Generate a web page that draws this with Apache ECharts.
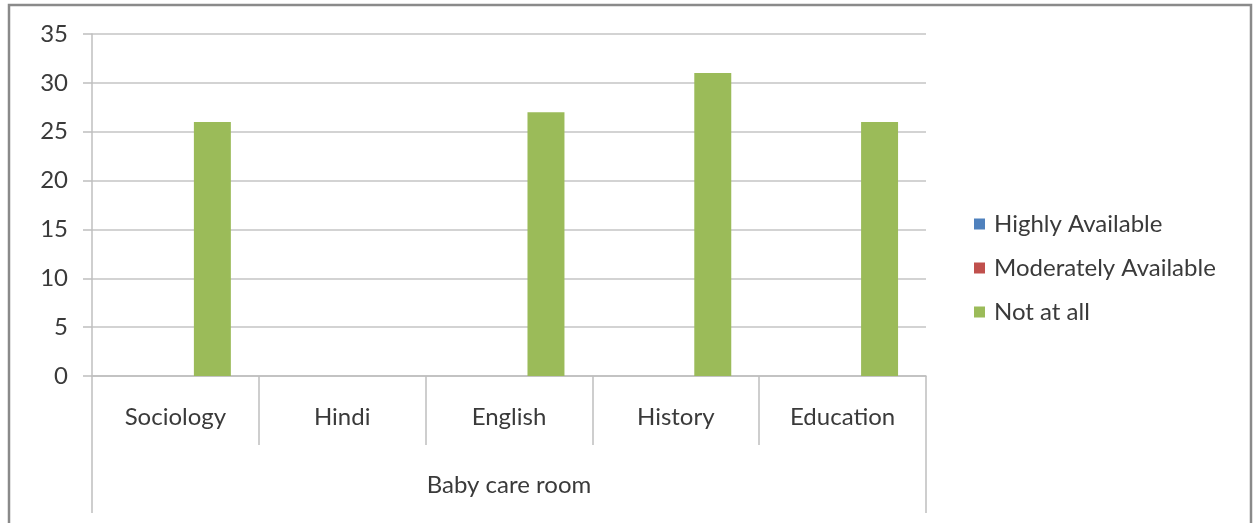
<!DOCTYPE html>
<html>
<head>
<meta charset="utf-8">
<script src="https://cdn.jsdelivr.net/npm/echarts@6/dist/echarts.min.js"></script>
<style>
  html, body { margin: 0; padding: 0; background: #fff; }
  #chart { width: 1253px; height: 523px; }
</style>
</head>
<body>
<div id="chart"></div>
<script>
var subjects = ['Sociology', 'Hindi', 'English', 'History', 'Education']
var groupLabel = ['Baby care room']
var highlyAvailable = [0, 0, 0, 0, 0]
var moderatelyAvailable = [0, 0, 0, 0, 0]
var notAtAll = [26, 0, 27, 31, 26]

var labelFont = 'Lato, "Open Sans", sans-serif'

var chart = echarts.init(document.getElementById('chart'))
chart.setOption({
  animation: false,
  color: ['#4f81bd', '#c0504d', '#9bbb59'],
  textStyle: { fontFamily: labelFont },
  graphic: [{
    type: 'rect',
    shape: { x: 9, y: 5, width: 1242, height: 540 },
    style: { fill: 'none', stroke: '#8a8a8a', lineWidth: 2.5 },
    silent: true
  }],
  grid: {
    left: 92,
    right: 327,
    top: 34,
    bottom: 147
  },
  legend: {
    orient: 'vertical',
    left: 969,
    top: 207,
    icon: 'rect',
    itemWidth: 11,
    itemHeight: 11,
    itemGap: 20,
    textStyle: {
      fontSize: 24,
      color: '#3a3a3a',
      padding: [0, 0, 0, 4]
    },
    data: ['Highly Available', 'Moderately Available', 'Not at all']
  },
  xAxis: [{
    type: 'category',
    data: subjects,
    axisLine: { lineStyle: { color: '#bfbfbf', width: 1.5 } },
    axisTick: { show: true, interval: 0, length: 69, lineStyle: { color: '#bfbfbf', width: 1.5 } },
    axisLabel: { interval: 0, margin: 29, fontSize: 24, color: '#3a3a3a' }
  }, {
    type: 'category',
    data: groupLabel,
    position: 'bottom',
    axisLine: { show: false },
    axisTick: { show: true, length: 137, lineStyle: { color: '#bfbfbf', width: 1.5 } },
    axisLabel: { margin: 97, fontSize: 24, color: '#3a3a3a' }
  }],
  yAxis: {
    type: 'value',
    min: 0,
    max: 35,
    interval: 5,
    axisLine: { show: true, lineStyle: { color: '#bfbfbf', width: 1.5 } },
    axisTick: { show: true, length: 9, lineStyle: { color: '#bfbfbf', width: 1.5 } },
    axisLabel: { margin: 24, fontSize: 24, color: '#3a3a3a' },
    splitLine: { lineStyle: { color: '#c4c4c4', width: 1.5 } }
  },
  series: [{
    type: 'bar',
    name: 'Highly Available',
    data: highlyAvailable,
    barGap: '0%',
    barCategoryGap: '33.5%'
  }, {
    type: 'bar',
    name: 'Moderately Available',
    data: moderatelyAvailable,
    barGap: '0%',
    barCategoryGap: '33.5%'
  }, {
    type: 'bar',
    name: 'Not at all',
    data: notAtAll,
    barGap: '0%',
    barCategoryGap: '33.5%'
  }]
})
</script>
</body>
</html>
